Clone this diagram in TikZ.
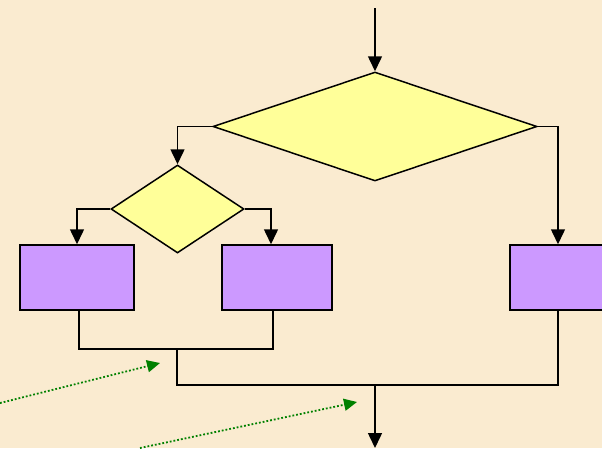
\documentclass[tikz,border=0pt]{standalone}
\usetikzlibrary{shapes.geometric,arrows.meta}
\definecolor{bgc}{HTML}{FAEBD0}
\definecolor{dfill}{HTML}{FFFF99}
\definecolor{bfill}{HTML}{CC99FF}
\definecolor{grn}{HTML}{008000}
\begin{document}
\begin{tikzpicture}[x=1pt,y=-1pt,
  dec/.style={diamond,draw=black,fill=dfill,line width=1.5pt,inner sep=0pt},
  proc/.style={rectangle,draw=black,fill=bfill,line width=1.5pt,inner sep=0pt,minimum height=65pt},
  conn/.style={line width=1.5pt,draw=black},
  arr/.style={conn,-{Triangle[length=15pt,width=14pt]}},
  note/.style={grn,dotted,line width=1.8pt,-{Triangle[length=13pt,width=12pt]}}]
\fill[bgc] (0,0) rectangle (602,448);
\useasboundingbox (0,0) rectangle (602,448);
\begin{scope}
\clip (0,0) rectangle (602,448);
\node[dec,minimum width=324pt,minimum height=109pt] (big) at (375,126.5) {};
\node[dec,minimum width=133pt,minimum height=88pt] (small) at (177.5,209) {};
\node[proc,minimum width=114pt] (b1) at (77,277.5) {};
\node[proc,minimum width=110pt] (b2) at (277,277.5) {};
\node[proc,minimum width=96pt] (b3) at (558,277.5) {};
\coordinate (start) at (375,8);
\coordinate (j1) at (177,349);
\coordinate (j2) at (177,385);
\coordinate (j3) at (375,385);
\coordinate (endp) at (375,448);
\coordinate (g1s) at (0,403);
\coordinate (g1e) at (160,363);
\coordinate (g2s) at (140,448);
\coordinate (g2e) at (357,402);
\draw[arr] (start) -- (big.north);
\draw[arr] (big.west) -| (small.north);
\draw[arr] (big.east) -| (b3.north);
\draw[arr] (small.west) -| (b1.north);
\draw[arr] (small.east) -| ([xshift=-6pt]b2.north);
\draw[conn] ([xshift=2pt]b1.south) |- (j1) -| ([xshift=-4pt]b2.south);
\draw[conn] (j1) -- (j2) -| (b3.south);
\draw[arr] (j3) -- (endp);
\draw[note] (g1s) -- (g1e);
\draw[note] (g2s) -- (g2e);
\end{scope}
\end{tikzpicture}
\end{document}
